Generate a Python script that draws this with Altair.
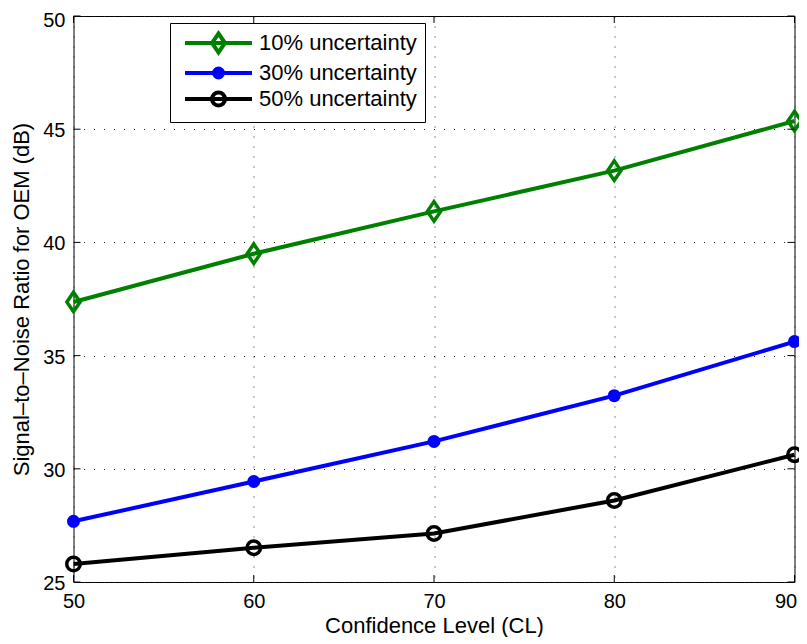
import altair as alt
import pandas as pd

# ---- data ----
cl = [50, 60, 70, 80, 90]
snr_10 = [37.37, 39.50, 41.37, 43.17, 45.36]
snr_30 = [27.68, 29.44, 31.21, 33.23, 35.62]
snr_50 = [25.79, 26.51, 27.14, 28.60, 30.62]
series_names = ["10% uncertainty", "30% uncertainty", "50% uncertainty"]
series_colors = ["#008000", "#0000ff", "#000000"]
x_ticks = [50, 60, 70, 80, 90]
y_ticks = [25, 30, 35, 40, 45, 50]

W, H = 721, 566
FONT = "Liberation Sans"

rows = []
for name, vals in zip(series_names, [snr_10, snr_30, snr_50]):
    for x, v in zip(cl, vals):
        rows.append({"cl": x, "snr": v, "series": name})
df = pd.DataFrame(rows)
xt = pd.DataFrame({"cl": x_ticks})
yt = pd.DataFrame({"snr": y_ticks})

X = alt.X("cl:Q",
          scale=alt.Scale(domain=[50, 90], nice=False, zero=False),
          axis=alt.Axis(values=x_ticks, format="d", title="Confidence Level (CL)",
                        grid=True, ticks=False, domain=False,
                        labelPadding=9.5, labelFlush=False, labelOverlap=False,
                        labelOffset=alt.condition("datum.value == 90", alt.value(-9), alt.value(0)),
                        titleBaseline="alphabetic", titleY=50, titleX=W / 2))
Y = alt.Y("snr:Q",
          scale=alt.Scale(domain=[25, 50], nice=False, zero=False),
          axis=alt.Axis(values=y_ticks, format="d",
                        title="Signal\u2013to\u2013Noise Ratio for OEM (dB)",
                        grid=True, ticks=False, domain=False,
                        labelPadding=8.5, labelFlush=False, labelOverlap=False,
                        labelOffset=alt.condition("datum.value == 50", alt.value(4), alt.value(1.5)),
                        titleBaseline="alphabetic", titleAlign="center",
                        titleX=-44.7, titleY=H / 2, titleAngle=270))

base = alt.Chart(df)
layers = []

marker_specs = [
    dict(shape="M0,-1L0.68,0L0,1L-0.68,0Z", filled=False, size=380, strokeWidth=3.5),
    dict(shape="circle", filled=True, size=169, strokeWidth=0),
    dict(shape="circle", filled=False, size=182, strokeWidth=3.5),
]
for name, col, ms in zip(series_names, series_colors, marker_specs):
    sub = base.transform_filter(alt.datum.series == name)
    layers.append(sub.mark_line(color=col, strokeWidth=4).encode(x=X, y=Y))
    layers.append(sub.mark_point(color=col, opacity=1, **ms).encode(x=X, y=Y))

# inward tick marks on all four sides
tick_style = dict(color="black", strokeWidth=1)
layers.append(alt.Chart(xt).mark_rule(**tick_style).encode(x=X, y=alt.value(H), y2=alt.value(H - 7)))
layers.append(alt.Chart(xt).mark_rule(**tick_style).encode(x=X, y=alt.value(0), y2=alt.value(7)))
layers.append(alt.Chart(yt).mark_rule(**tick_style).encode(y=Y, x=alt.value(0), x2=alt.value(7)))
layers.append(alt.Chart(yt).mark_rule(**tick_style).encode(y=Y, x=alt.value(W - 7), x2=alt.value(W)))

# legend (line + marker symbols as custom paths)
line_p = "M-1.2,0L5.5,0"
legend_paths = [
    line_p + "M2.15,-0.95L2.8,0L2.15,0.95L1.5,0Z",
    line_p + "M1.7,0A0.45,0.45,0,1,1,2.6,0A0.45,0.45,0,1,1,1.7,0Z"
             "M1.95,0A0.2,0.2,0,1,1,2.35,0A0.2,0.2,0,1,1,1.95,0Z",
    line_p + "M1.5,0A0.65,0.65,0,1,1,2.8,0A0.65,0.65,0,1,1,1.5,0Z",
]
leg = dict(title=None, orient="none", legendX=96.5, legendY=7, padding=8, rowPadding=-2,
           symbolSize=400, symbolStrokeWidth=4, symbolOffset=7, labelOffset=50,
           symbolOpacity=1, labelFont=FONT, labelFontSize=22, labelColor="black",
           labelLimit=400, strokeColor="black", fillColor="white")
layers.append(
    base.transform_filter("false")
    .mark_point(filled=False, strokeWidth=4, size=400, opacity=1)
    .encode(x=X, y=Y,
            color=alt.Color("series:N", scale=alt.Scale(domain=series_names, range=series_colors),
                            legend=alt.Legend(**leg)),
            shape=alt.Shape("series:N", scale=alt.Scale(domain=series_names, range=legend_paths),
                            legend=alt.Legend(**leg)))
)

chart = (
    alt.layer(*layers)
    .properties(width=W, height=H,
                autosize=alt.AutoSizeParams(type="none"),
                padding={"left": 65.5, "top": 8, "right": 4, "bottom": 55})
    .configure_view(stroke="black", strokeWidth=1)
    .configure_axis(labelFont=FONT, labelFontSize=20, labelColor="black",
                    titleFont=FONT, titleFontSize=22, titleFontWeight="normal",
                    titleColor="black", gridColor="#222222", gridDash=[1, 9],
                    gridWidth=1, gridOpacity=1)
)

chart.save("out.html", embed_options={"renderer": "svg", "actions": False})
